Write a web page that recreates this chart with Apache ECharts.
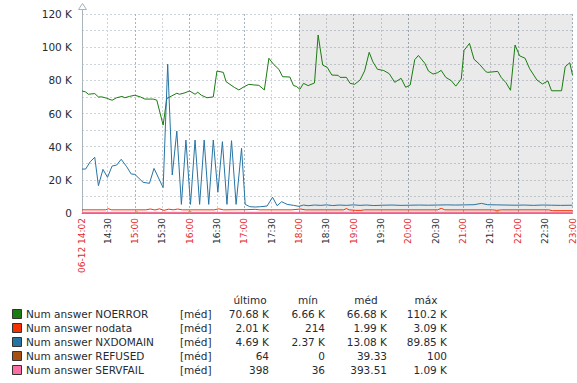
<!DOCTYPE html>
<html><head><meta charset="utf-8">
<script src="https://cdn.jsdelivr.net/npm/echarts@6/dist/echarts.min.js"></script>
<style>html,body{margin:0;padding:0;background:#fff}#c{width:577px;height:383px}</style>
</head><body><div id="c"></div>
<script>
// ---- axis / categories ----
const dateLabel = '06-12';
const startMin = 14 * 60 + 2;   // 14:02
const endMin = 23 * 60;         // 23:00
const shadeFrom = '18:00';
const shadeTo = '23:00';
const yTicks = [0, 20, 40, 60, 80, 100, 120]; // in K

// ---- series data: [minutes since 14:02, value in K] ----
const noerror = [[0,73.6],[4,73.0],[7,71.6],[10,71.8],[14,72.0],[18,70.0],[22,70.0],[27,69.2],[33,68.0],[38,69.5],[44,70.3],[47,69.5],[52,70.3],[58,71.0],[64,70.0],[69,68.7],[78,68.7],[82,68.1],[89,53.0],[93,69.0],[98,70.5],[104,72.2],[107,71.6],[113,72.5],[118,73.6],[124,71.6],[127,72.8],[131,71.0],[137,69.5],[144,70.0],[148,85.6],[155,84.8],[158,79.2],[167,75.8],[172,74.2],[178,76.2],[183,77.6],[189,77.2],[194,77.0],[200,74.2],[205,93.3],[210,89.7],[216,86.6],[220,82.2],[228,82.0],[232,76.8],[235,76.4],[239,74.6],[243,78.2],[248,76.8],[255,78.4],[259,107.3],[264,89.2],[269,87.8],[274,83.2],[281,83.0],[283,81.8],[290,81.8],[294,78.2],[299,77.6],[305,80.2],[310,85.7],[315,96.9],[319,91.2],[324,86.7],[331,85.9],[337,84.0],[343,78.8],[350,81.2],[355,75.8],[360,77.2],[365,92.5],[369,95.0],[373,92.3],[376,90.3],[380,85.6],[385,83.8],[390,84.6],[394,86.0],[399,81.8],[405,79.8],[410,76.5],[416,80.8],[419,98.0],[425,102.3],[430,92.7],[436,89.7],[443,85.2],[445,84.8],[456,85.4],[460,81.6],[465,78.6],[470,74.0],[475,101.3],[480,94.8],[486,93.3],[491,87.0],[499,80.2],[505,77.8],[511,79.6],[515,73.7],[526,73.7],[530,88.2],[535,90.6],[538,83.2]];
const nodata = [[0,1.9],[26,1.9],[29,2.6],[32,1.9],[70,1.9],[75,2.4],[80,1.8],[85,2.5],[90,1.6],[95,2.3],[100,1.9],[105,2.4],[110,1.9],[145,1.9],[150,2.5],[155,1.9],[180,2.0],[190,2.2],[195,1.9],[230,1.9],[240,2.4],[245,1.9],[287,1.9],[290,2.7],[293,1.9],[300,1.6],[306,1.6],[310,1.9],[390,1.9],[394,2.8],[398,1.9],[450,1.9],[455,1.6],[460,1.9],[512,1.9],[516,1.4],[538,1.4]];
const nxdomain = [[0,26.5],[4,26.5],[9,30.9],[14,33.6],[18,16.5],[23,26.3],[28,21.5],[33,28.3],[38,28.9],[43,32.4],[49,27.9],[54,23.5],[58,23.3],[67,18.5],[74,17.9],[79,26.9],[85,19.9],[89,15.3],[94,89.8],[99,22.9],[104,49.4],[109,5.2],[114,44.0],[119,5.2],[124,44.0],[129,5.2],[134,44.0],[139,5.2],[144,44.0],[149,12.5],[154,43.0],[159,5.2],[164,43.6],[169,5.2],[175,39.0],[179,5.2],[184,3.8],[190,3.6],[196,3.8],[203,4.2],[209,9.5],[214,4.4],[219,6.8],[225,5.2],[232,4.6],[238,4.0],[243,4.8],[248,4.4],[255,4.8],[262,4.6],[268,4.9],[275,4.5],[282,4.8],[290,4.6],[298,4.9],[305,4.6],[312,4.8],[320,4.5],[330,4.7],[340,4.8],[350,4.6],[360,4.7],[370,4.8],[380,4.7],[390,4.8],[400,4.9],[410,4.8],[420,4.9],[430,5.0],[438,5.8],[445,5.0],[455,4.9],[465,4.8],[475,4.7],[485,4.8],[495,4.6],[505,4.8],[515,4.7],[525,4.6],[538,4.7]];
const refused = [[0,0.05],[120,0.06],[300,0.04],[538,0.06]];
const servfail = [[0,0.4],[58,0.4],[60,1.0],[62,0.4],[116,0.4],[118,1.05],[121,0.4],[300,0.4],[453,0.4],[455,0.9],[458,0.4],[538,0.4]];

// ---- legend table ----
const seriesNames = ['Num answer NOERROR','Num answer nodata','Num answer NXDOMAIN','Num answer REFUSED','Num answer SERVFAIL'];
const seriesColors = ['#1A7C11','#F63100','#2774A4','#A54F10','#FC6EA3'];
const colHeaders = ['último','mín','méd','máx'];
const lastVals = ['70.68 K','2.01 K','4.69 K','64','398'];
const minVals  = ['6.66 K','214','2.37 K','0','36'];
const avgVals  = ['66.68 K','1.99 K','13.08 K','39.33','393.51'];
const maxVals  = ['110.2 K','3.09 K','89.85 K','100','1.09 K'];
const funcLabel = '[méd]';

function pad(n){return (n<10?'0':'')+n;}
const categories = [];
for (let m = startMin; m <= endMin; m++) categories.push(pad(Math.floor(m/60)) + ':' + pad(m%60));

const FONT = 'DejaVu Sans';
const chart = echarts.init(document.getElementById('c'), null, {renderer:'svg'});

const allSeries = [noerror, nodata, nxdomain, refused, servfail];
const series = allSeries.map((d, i) => ({
  name: seriesNames[i], type: 'line', data: d, symbol: 'none', smooth: false,
  lineStyle: {width: 1, color: seriesColors[i]}, itemStyle:{color: seriesColors[i]},
  animation: false, z: 3 + i
}));
series[0].markArea = {
  silent: true,
  itemStyle: {color: 'rgba(0,0,0,0.082)'},
  data: [[{xAxis: shadeFrom}, {xAxis: shadeTo}]]
};

const graphics = [];
// arrow on top of y axis
graphics.push({type:'line', shape:{x1:82.5,y1:14,x2:82.5,y2:9}, style:{stroke:'#a9b4bd', lineWidth:1}});
graphics.push({type:'polygon', shape:{points:[[78.5,9.5],[82.5,3.5],[86.5,9.5]]}, style:{fill:'#fff', stroke:'#a9b4bd', lineWidth:1}});

const rowY0 = 314, rowStep = 14, headY = 300;
const colRight = [269, 325, 387, 447];
const headCenter = [250, 308, 366, 426];
const txtColor = '#1f2c33';
colHeaders.forEach((h, j) => graphics.push({type:'text', x: headCenter[j], y: headY,
  style:{text:h, font:'10.5px ' + FONT, fill: txtColor, align:'center', verticalAlign:'middle'}}));
const cols = [lastVals, minVals, avgVals, maxVals];
seriesNames.forEach((n, i) => {
  const y = rowY0 + i*rowStep;
  graphics.push({type:'rect', shape:{x:12.5, y:y-4.5, width:9, height:9}, style:{fill: seriesColors[i], stroke:'#333', lineWidth:1}});
  graphics.push({type:'text', x:26, y:y, style:{text:n, font:'10.5px ' + FONT, fill: txtColor, verticalAlign:'middle'}});
  graphics.push({type:'text', x:180, y:y, style:{text:funcLabel, font:'10.5px ' + FONT, fill: txtColor, verticalAlign:'middle'}});
  cols.forEach((c, j) => graphics.push({type:'text', x: colRight[j], y:y,
    style:{text:c[i], font:'10.5px ' + FONT, fill: txtColor, align:'right', verticalAlign:'middle'}}));
});

const halfHour = (idx) => (idx - 28) % 60 === 0 && idx >= 28;
const fullHour = (idx) => (idx - 58) % 60 === 0 && idx >= 58;

chart.setOption({
  backgroundColor: '#fff',
  animation: false,
  textStyle: {fontFamily: FONT},
  grid: {left: 82, right: 2, top: 14, bottom: 170, containLabel: false},
  xAxis: [{
    type: 'category', data: categories, boundaryGap: false,
    axisLine: {show: true, lineStyle: {color: '#9a9a9a', width: 1}},
    axisTick: {show: false},
    axisLabel: {
      interval: (idx) => idx === 0 || (idx + 2) % 30 === 0,
      rotate: 90, margin: 5, fontSize: 9, fontFamily: FONT,
      formatter: (v, idx) => {
        if (idx === 0) return '{r|' + dateLabel + ' ' + v + '}';
        return v.endsWith(':00') ? '{r|' + v + '}' : '{b|' + v + '}';
      },
      rich: {r: {color: '#e3262b', fontSize: 9, fontFamily: FONT}, b: {color: '#1f2c33', fontSize: 9, fontFamily: FONT}}
    },
    splitLine: {show: true, interval: (idx) => halfHour(idx), lineStyle: {color: '#cdd4da', type: [2, 2], width: 1}}
  }, {
    type: 'category', data: categories, boundaryGap: false, position: 'bottom',
    axisLine: {show: false}, axisTick: {show: false}, axisLabel: {show: false},
    splitLine: {show: true, interval: (idx) => fullHour(idx), lineStyle: {color: '#a7b3be', type: [2, 2], width: 1}}
  }],
  yAxis: {
    type: 'value', min: 0, max: 120, interval: 10,
    axisLine: {show: true, lineStyle: {color: '#a9b4bd'}},
    axisTick: {show: false},
    axisLabel: {margin: 10, fontSize: 10.5, fontFamily: FONT, color: '#1f2c33',
      formatter: (v) => yTicks.indexOf(v) < 0 ? '' : (v === 0 ? '0' : v + ' K')},
    splitLine: {show: true, lineStyle: {color: '#cdd4da', type: [2, 2], width: 1}}
  },
  series: series,
  graphic: graphics
});
</script></body></html>
